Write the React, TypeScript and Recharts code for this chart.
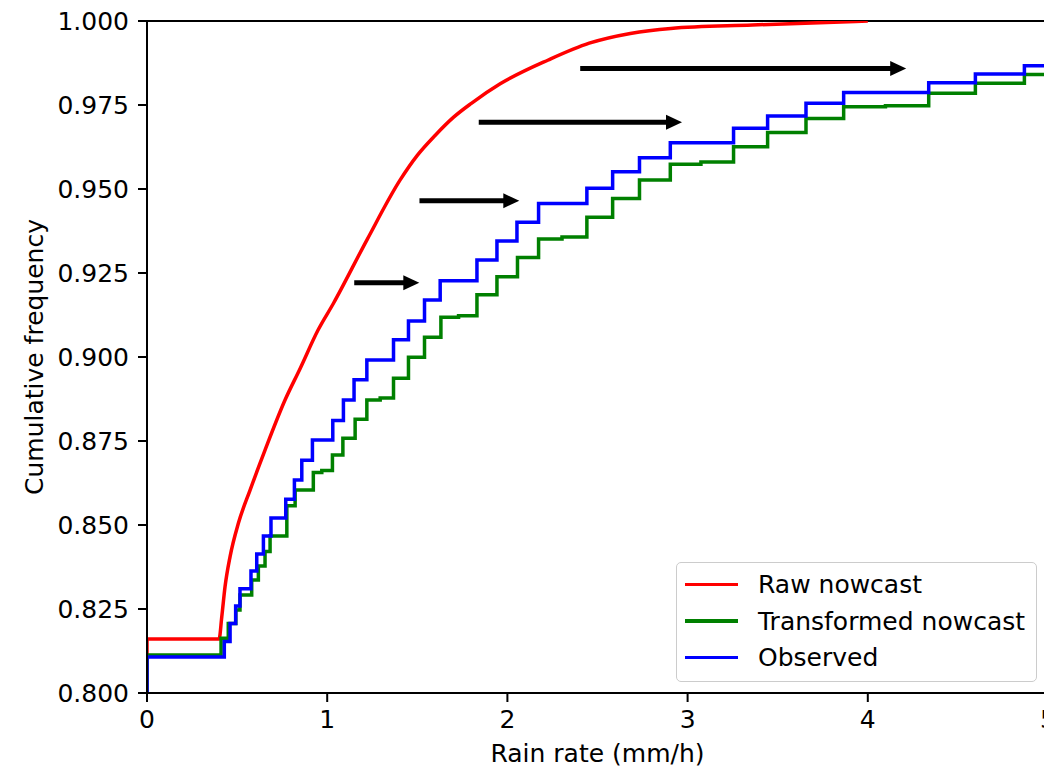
import { LineChart, Line, XAxis, YAxis, Legend, ReferenceLine } from 'recharts';

// Raw nowcast CDF (smooth)
const rawX = [0, 0, 0.4, 0.415, 0.433, 0.461, 0.507, 0.572, 0.655, 0.766, 0.85, 0.95, 1.035, 1.22, 1.405, 1.5, 1.6, 1.7, 1.8, 1.96, 2.227, 2.454, 2.682, 2.907, 3.359, 4.0];
const rawY = [0.8, 0.8161, 0.8161, 0.8227, 0.8316, 0.8406, 0.8505, 0.8604, 0.8723, 0.8872, 0.8966, 0.9081, 0.916, 0.9348, 0.9527, 0.96, 0.966, 0.9713, 0.9755, 0.9813, 0.9884, 0.9934, 0.9963, 0.9978, 0.9988, 1.0];

// Transformed nowcast CDF (steps)
const transformedX = [0, 0, 0.411, 0.451, 0.493, 0.516, 0.581, 0.618, 0.655, 0.683, 0.776, 0.822, 0.923, 0.97, 1.029, 1.087, 1.155, 1.22, 1.294, 1.368, 1.451, 1.54, 1.631, 1.729, 1.831, 1.942, 2.056, 2.173, 2.303, 2.441, 2.584, 2.733, 2.904, 3.074, 3.255, 3.444, 3.657, 3.866, 4.098, 4.338, 4.597, 4.869, 5.0];
const transformedY = [0.8, 0.8113, 0.8163, 0.8207, 0.8247, 0.8292, 0.8336, 0.8378, 0.8421, 0.8467, 0.8557, 0.8604, 0.8656, 0.8662, 0.8708, 0.8758, 0.8815, 0.8872, 0.8878, 0.8937, 0.8999, 0.9059, 0.9118, 0.9123, 0.9185, 0.9239, 0.9296, 0.9351, 0.9357, 0.9416, 0.9472, 0.9527, 0.9574, 0.958, 0.9626, 0.9668, 0.971, 0.9745, 0.9748, 0.9785, 0.9815, 0.9841, 0.9841];

// Observed CDF (steps)
const observedX = [0, 0, 0.429, 0.461, 0.492, 0.516, 0.577, 0.609, 0.646, 0.688, 0.77, 0.818, 0.859, 0.918, 1.031, 1.09, 1.149, 1.22, 1.368, 1.451, 1.54, 1.627, 1.831, 1.942, 2.053, 2.173, 2.441, 2.584, 2.733, 2.904, 3.255, 3.444, 3.657, 3.866, 4.338, 4.597, 4.869, 5.0];
const observedY = [0.8, 0.8107, 0.8153, 0.8207, 0.8259, 0.831, 0.8363, 0.8414, 0.8467, 0.8521, 0.8577, 0.8634, 0.8693, 0.8753, 0.8811, 0.8872, 0.8932, 0.8991, 0.9051, 0.9107, 0.917, 0.9227, 0.9289, 0.9345, 0.9401, 0.9457, 0.9502, 0.9551, 0.9593, 0.9638, 0.9681, 0.9717, 0.9755, 0.9787, 0.9816, 0.9842, 0.9867, 0.9867];

// annotation arrows
const arrowStartX = [1.15, 1.512, 1.841, 2.404];
const arrowEndX = [1.511, 2.066, 2.969, 4.213];
const arrowY = [0.9221, 0.9465, 0.9699, 0.9859];

const xTicks = [0, 1, 2, 3, 4, 5];
const yTicks = [0.8, 0.825, 0.85, 0.875, 0.9, 0.925, 0.95, 0.975, 1.0];
const legendOrder = ['Raw nowcast', 'Transformed nowcast', 'Observed'];

const toPoints = (xs: number[], ys: number[]) => xs.map((x, i) => ({ x, y: ys[i] }));
const rawData = toPoints(rawX, rawY);
const transformedData = toPoints(transformedX, transformedY);
const observedData = toPoints(observedX, observedY);

const FONT = 'DejaVu Sans';
const FS = 25;

const Arrow = (props: any) => {
  const { x1, y1, x2, y2 } = props;
  const head = 16;
  const half = 7.5;
  return (
    <g>
      <line x1={x1} y1={y1} x2={x2 - head + 1} y2={y2} stroke="#000" strokeWidth={5} />
      <polygon points={`${x2},${y2} ${x2 - head},${y2 - half} ${x2 - head},${y2 + half}`} fill="#000" />
    </g>
  );
};

const renderLegend = (props: any) => {
  const payload = [...(props.payload || [])].sort(
    (a: any, b: any) => legendOrder.indexOf(a.value) - legendOrder.indexOf(b.value)
  );
  return (
    <div
      style={{
        boxSizing: 'border-box',
        width: 361,
        height: 120,
        border: '1.5px solid #cccccc',
        borderRadius: 5,
        background: '#fff',
        paddingTop: 3,
        fontFamily: FONT,
        fontSize: FS,
        color: '#000',
      }}
    >
      {payload.map((entry: any) => (
        <div key={entry.value} style={{ display: 'flex', alignItems: 'center', height: 36.7 }}>
          <div style={{ width: 53, height: 3.5, background: entry.color, marginLeft: 8, marginRight: 20 }} />
          <span style={{ lineHeight: 1 }}>{entry.value}</span>
        </div>
      ))}
    </div>
  );
};

export default function App() {
  return (
    <div style={{ position: 'fixed', left: 0, top: 0, width: 1044, height: 770, overflow: 'hidden', background: '#fff' }}>
      <LineChart width={1070} height={770} margin={{ top: 21, right: 22, bottom: 0, left: 0 }}>
        <XAxis
          type="number"
          dataKey="x"
          domain={[0, 5]}
          ticks={xTicks}
          allowDataOverflow
          height={77}
          stroke="#000"
          axisLine={{ stroke: '#000', strokeWidth: 2 }}
          tickLine={{ stroke: '#000', strokeWidth: 2 }}
          tickSize={9}
          tickMargin={8}
          tick={{ fill: '#000', fontSize: FS, fontFamily: FONT }}
          label={{ value: 'Rain rate (mm/h)', position: 'insideBottom', offset: 8, style: { fill: '#000', fontSize: FS, fontFamily: FONT } }}
        />
        <YAxis
          type="number"
          domain={[0.8, 1.0]}
          ticks={yTicks}
          allowDataOverflow
          width={147}
          stroke="#000"
          axisLine={{ stroke: '#000', strokeWidth: 2 }}
          tickLine={{ stroke: '#000', strokeWidth: 2 }}
          tickSize={9}
          tickMargin={9}
          tickFormatter={(v: number) => v.toFixed(3)}
          tick={{ fill: '#000', fontSize: FS, fontFamily: FONT }}
          label={() => (
            <text
              x={43}
              y={357}
              transform="rotate(-90, 43, 357)"
              textAnchor="middle"
              fill="#000"
              fontSize={FS}
              fontFamily={FONT}
            >
              Cumulative frequency
            </text>
          )}
        />
        <ReferenceLine y={1.0} stroke="#000" strokeWidth={2} />
        <ReferenceLine x={5} stroke="#000" strokeWidth={2} />
        <Line data={rawData} dataKey="y" name="Raw nowcast" type="monotone" stroke="#ff0000" strokeWidth={3.5} dot={false} activeDot={false} isAnimationActive={false} />
        <Line data={transformedData} dataKey="y" name="Transformed nowcast" type="stepAfter" stroke="#008000" strokeWidth={3.5} dot={false} activeDot={false} isAnimationActive={false} />
        <Line data={observedData} dataKey="y" name="Observed" type="stepAfter" stroke="#0000ff" strokeWidth={3.5} dot={false} activeDot={false} isAnimationActive={false} />
        {arrowStartX.map((sx, i) => (
          <ReferenceLine
            key={`arrow-${i}`}
            segment={[{ x: sx, y: arrowY[i] }, { x: arrowEndX[i], y: arrowY[i] }]}
            shape={Arrow}
          />
        ))}
        <Legend
          layout="vertical"
          align="center"
          verticalAlign="middle"
          content={renderLegend}
          wrapperStyle={{ left: 676, top: 562, width: 361, height: 120 }}
        />
      </LineChart>
    </div>
  );
}
